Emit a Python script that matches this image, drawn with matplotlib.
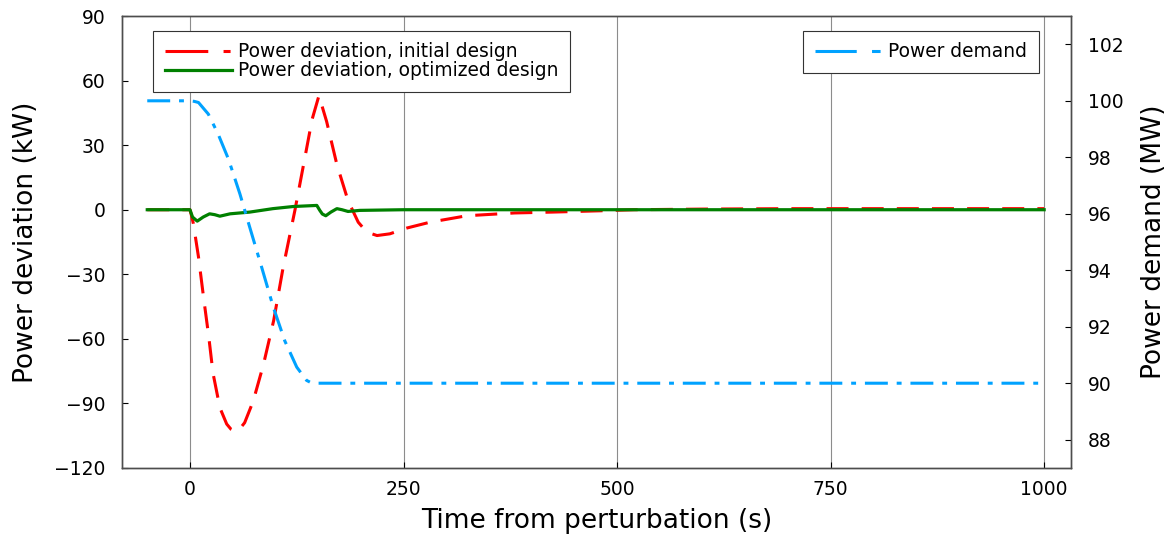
import matplotlib
matplotlib.use('Agg')
import matplotlib.pyplot as plt
from matplotlib.lines import Line2D

plt.rcParams['font.family'] = ['DejaVu Sans']

# red dashed: power deviation, initial design (kW)
t_init = [-50, 0, 2, 4, 10, 16, 22, 27, 35, 43, 48, 53, 58, 64, 74, 86, 98, 109, 123,
          133, 143, 151, 160, 172, 185, 197, 207, 219, 234, 254, 281, 324, 380, 424,
          480, 520, 600, 700, 800, 900, 1000]
p_init = [0, 0, -3, -6.5, -22, -41, -59, -76, -92, -99.6, -102, -103, -102, -99, -89,
          -72, -51.5, -27, 0, 21, 42, 53, 41, 21, 4.3, -5.8, -10.4, -12, -11.2, -8.5,
          -5.8, -2.8, -1.5, -1.1, -0.5, 0, 0.3, 0.5, 0.5, 0.5, 0.5]

# green solid: power deviation, optimized design (kW)
t_opt = [-50, 0, 3, 8.5, 15.5, 23, 29, 35, 47, 70, 97, 121, 148.5, 152, 155, 159,
         165, 172, 178, 185, 199, 250, 1000]
p_opt = [0, 0, -3.4, -5.3, -3.4, -1.9, -2.3, -3, -1.9, -1.1, 0.5, 1.5, 2, -0.3, -2,
         -2.8, -1.1, 0.5, 0, -0.8, -0.3, 0, 0]

# blue dash-dot: power demand (MW)
t_dem = [-50, 0, 5, 10, 21.5, 33, 45, 58.5, 70, 84, 97.5, 111, 125, 136.5, 141, 146, 1000]
p_dem = [100, 100, 99.98, 99.94, 99.53, 98.82, 97.94, 96.7, 95.52, 94.1, 92.7, 91.5,
         90.57, 90.1, 90.03, 90, 90]

red, green, blue = '#ff0000', '#008000', '#00a2ff'

fig = plt.figure(figsize=(11.68, 5.36), dpi=100)
ax = fig.add_axes([0.1045, 0.127, 0.8125, 0.843])
ax2 = ax.twinx()

lw = 2.2
ax.plot(t_init, p_init, color=red, lw=lw, dashes=(7.2, 4.3))
ax.plot(t_opt, p_opt, color=green, lw=lw + 0.1)
ax2.plot(t_dem, p_dem, color=blue, lw=lw, dashes=(7.5, 2.9, 1.6, 2.9))

ax.set_xlim(-79.5, 1031.5)
ax.set_ylim(-120, 90)
ax2.set_ylim(87, 103)
ax.set_xticks([0, 250, 500, 750, 1000])
ax.set_yticks(range(-120, 91, 30))
ax2.set_yticks(range(88, 103, 2))

ax.grid(axis='x', color='0.55', lw=0.8)
ax.tick_params(axis='x', direction='in', length=4, labelsize=13.5, width=0.8, pad=9)
ax.tick_params(axis='y', direction='in', length=4, labelsize=13.5, width=0.8, pad=12)
ax2.tick_params(direction='in', length=4, labelsize=13.5, width=0.8, pad=12)
for a in (ax, ax2):
    for s in a.spines.values():
        s.set_color('0.3')
        s.set_linewidth(1.0)

ax.set_xlabel('Time from perturbation (s)', fontsize=19, labelpad=6.4)
ax.set_ylabel('Power deviation (kW)', fontsize=19, labelpad=11)
ax2.set_ylabel('Power demand (MW)', fontsize=19, labelpad=12.4)

# legend samples (long dash + dot, as in the original legend)
h1 = Line2D([], [], color=red, lw=lw, dashes=(14, 5, 2.3, 5))
h2 = Line2D([], [], color=green, lw=lw + 0.1)
h3 = Line2D([], [], color=blue, lw=lw, dashes=(13.5, 5, 2.8, 5))

kw = dict(borderaxespad=0, fontsize=13.4, fancybox=False, framealpha=1,
          edgecolor='0.2', handlelength=3.6, handletextpad=0.34,
          borderpad=0.62, labelspacing=0.0)
leg1 = ax.legend([h1, h2], ['Power deviation, initial design',
                            'Power deviation, optimized design'],
                 loc='upper left', bbox_to_anchor=(0.0327, 0.9675), **kw)
leg1.get_frame().set_linewidth(0.8)
leg2 = ax2.legend([h3], ['Power demand'], loc='upper right',
                  bbox_to_anchor=(0.966, 0.9675), **kw)
leg2.get_frame().set_linewidth(0.8)

fig.savefig('out.png', dpi=100)
